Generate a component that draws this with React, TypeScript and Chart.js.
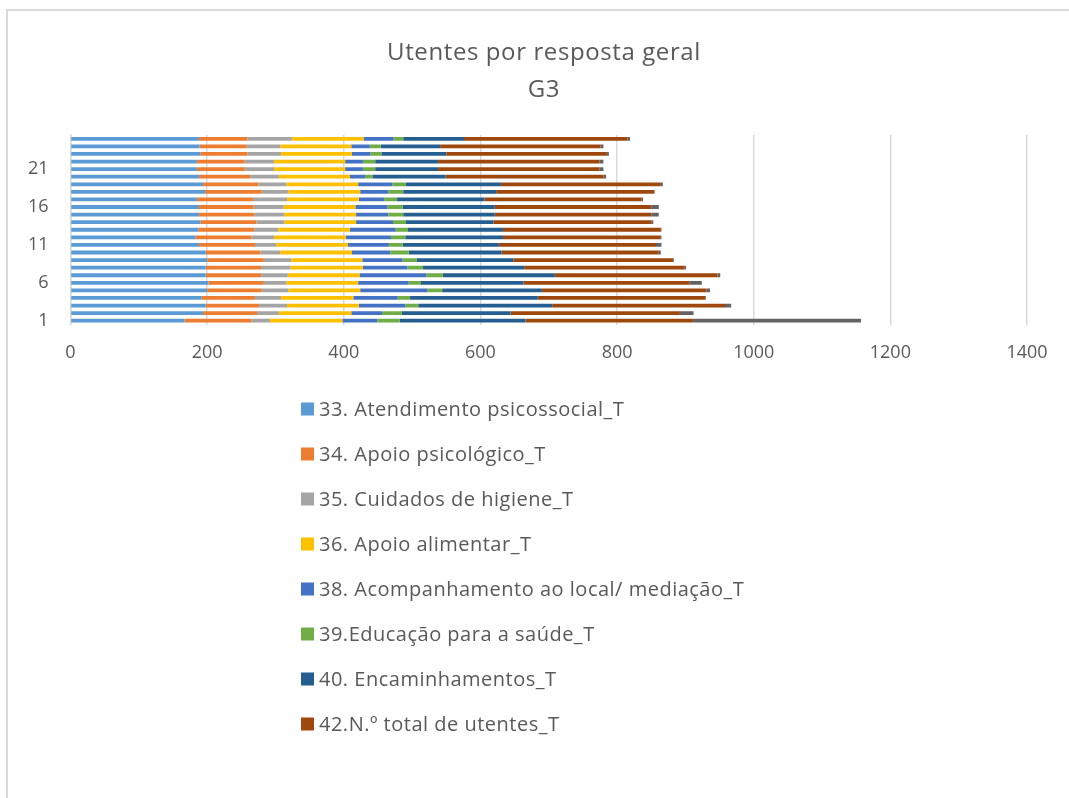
import React, { useEffect, useRef } from 'react';
import { Chart, registerables } from 'chart.js';

Chart.register(...registerables);

const categories = ['1', '2', '3', '4', '5', '6', '7', '8', '9', '10', '11', '12', '13', '14', '15', '16', '17', '18', '19', '20', '21', '22', '23', '24', '25'];

const atendimentoPsicossocial = [167, 194, 198, 192, 200, 202, 198, 198, 200, 198, 188, 183, 187, 190, 188, 188, 185, 197, 194, 188, 185, 185, 190, 189, 188];
const apoioPsicologico = [98, 79, 78, 78, 80, 81, 81, 81, 83, 80, 82, 82, 82, 82, 81, 80, 82, 83, 81, 75, 70, 70, 69, 69, 71];
const cuidadosHigiene = [27, 32, 41, 38, 39, 33, 39, 43, 40, 29, 31, 33, 35, 41, 44, 44, 50, 39, 41, 42, 43, 43, 49, 49, 65];
const apoioAlimentar = [106, 106, 105, 106, 105, 105, 105, 106, 104, 105, 105, 105, 105, 105, 105, 105, 105, 105, 105, 104, 104, 104, 104, 104, 105];
const acompanhamento = [51, 45, 68, 65, 98, 74, 98, 65, 59, 56, 60, 66, 67, 54, 47, 47, 37, 41, 50, 22, 26, 26, 27, 27, 44];
const educacaoSaude = [33, 29, 19, 18, 22, 18, 24, 23, 21, 27, 20, 21, 18, 19, 22, 22, 19, 22, 20, 11, 18, 18, 16, 16, 14];
const encaminhamentos = [184, 159, 196, 187, 146, 150, 164, 148, 141, 136, 141, 143, 139, 128, 134, 135, 128, 136, 139, 107, 92, 92, 95, 87, 89];
const totalUtentes = [245, 248, 253, 245, 241, 243, 238, 235, 234, 230, 230, 230, 231, 231, 229, 229, 230, 231, 233, 231, 236, 236, 235, 235, 239];
const outros = [246, 20, 9, 1, 5, 18, 4, 2, 1, 3, 8, 2, 1, 3, 11, 11, 2, 1, 4, 4, 6, 6, 3, 4, 4];

const seriesLabels = [
  '33. Atendimento psicossocial_T',
  '34. Apoio psicológico_T',
  '35. Cuidados de higiene_T',
  '36. Apoio alimentar_T',
  '38. Acompanhamento ao local/ mediação_T',
  '39.Educação para a saúde_T',
  '40. Encaminhamentos_T',
  '42.N.º total de utentes_T',
  'Outros_T',
];
const seriesColors = ['#5B9BD5', '#ED7D31', '#A5A5A5', '#FFC000', '#4472C4', '#70AD47', '#255E91', '#9E480E', '#636363'];
const legendCount = 8;

const titleLines = ['Utentes por resposta geral', 'G3'];
const xTickStep = 200;
const xMax = 1400;

const FONT = "'Open Sans', 'DejaVu Sans', sans-serif";
const TEXT = '#595959';

const decorPlugin = {
  id: 'decor',
  beforeDraw(chart: any) {
    const ctx = chart.ctx;
    ctx.save();
    ctx.fillStyle = '#ffffff';
    ctx.fillRect(0, 0, chart.width, chart.height);
    ctx.strokeStyle = '#D9D9D9';
    ctx.lineWidth = 2;
    ctx.strokeRect(7, 10, chart.width + 20, chart.height + 20);
    ctx.restore();
  },
  afterDraw(chart: any) {
    const ctx = chart.ctx;
    ctx.save();
    ctx.fillStyle = TEXT;
    ctx.textAlign = 'center';
    ctx.textBaseline = 'alphabetic';
    ctx.font = `24px ${FONT}`;
    try { (ctx as any).letterSpacing = '0.6px'; } catch (e) {}
    ctx.fillText(titleLines[0], 544, 60);
    ctx.fillText(titleLines[1], 544, 97);

    ctx.textAlign = 'left';
    ctx.textBaseline = 'middle';
    ctx.font = `20px ${FONT}`;
    try { (ctx as any).letterSpacing = '0.5px'; } catch (e) {}
    const ds = chart.data.datasets;
    for (let i = 0; i < legendCount; i++) {
      const cy = 409 + i * 45;
      ctx.fillStyle = ds[i].backgroundColor;
      ctx.fillRect(301, cy - 6.5, 13, 13);
      ctx.fillStyle = TEXT;
      ctx.fillText(ds[i].label, 319, cy + 1);
    }
    try { (ctx as any).letterSpacing = '0px'; } catch (e) {}
    ctx.restore();
  },
};

const seriesData = [
  atendimentoPsicossocial,
  apoioPsicologico,
  cuidadosHigiene,
  apoioAlimentar,
  acompanhamento,
  educacaoSaude,
  encaminhamentos,
  totalUtentes,
  outros,
];

export default function App() {
  const ref = useRef<HTMLCanvasElement | null>(null);

  useEffect(() => {
    document.body.style.margin = '0';
    const canvas = ref.current;
    if (!canvas) return;
    const chart = new Chart(canvas, {
      type: 'bar',
      data: {
        labels: categories,
        datasets: seriesData.map((d, i) => ({
          label: seriesLabels[i],
          data: d,
          backgroundColor: seriesColors[i],
          borderWidth: 0,
          barPercentage: 0.5,
          categoryPercentage: 1.0,
        })),
      },
      options: {
        indexAxis: 'y',
        responsive: false,
        animation: false,
        devicePixelRatio: 1,
        layout: { padding: { left: 10.5, right: 42, top: 135, bottom: 423.5 } },
        plugins: {
          legend: { display: false },
          title: { display: false },
          tooltip: { enabled: false },
        },
        scales: {
          x: {
            stacked: true,
            min: 0,
            max: xMax,
            ticks: {
              stepSize: xTickStep,
              color: TEXT,
              font: { size: 18, family: FONT },
              padding: 18,
              callback: (v: any) => String(v),
            },
            grid: { color: '#D9D9D9', lineWidth: 1.5, drawTicks: false },
            border: { display: false },
            afterFit: (s: any) => {
              s.height = 50;
            },
          },
          y: {
            stacked: true,
            reverse: true,
            ticks: {
              autoSkip: false,
              color: TEXT,
              font: { size: 18, family: FONT },
              padding: 22,
              callback: (_v: any, idx: number) => (idx % 5 === 0 ? categories[idx] : ''),
            },
            grid: { display: false, drawTicks: false },
            border: { display: true, color: '#D9D9D9', width: 1.5 },
            afterFit: (s: any) => {
              s.width = 60;
            },
          },
        },
      },
      plugins: [decorPlugin],
    });
    return () => chart.destroy();
  }, []);

  return (
    <div style={{ width: 1069, height: 798 }}>
      <canvas ref={ref} width={1069} height={798} style={{ display: 'block' }} />
    </div>
  );
}
